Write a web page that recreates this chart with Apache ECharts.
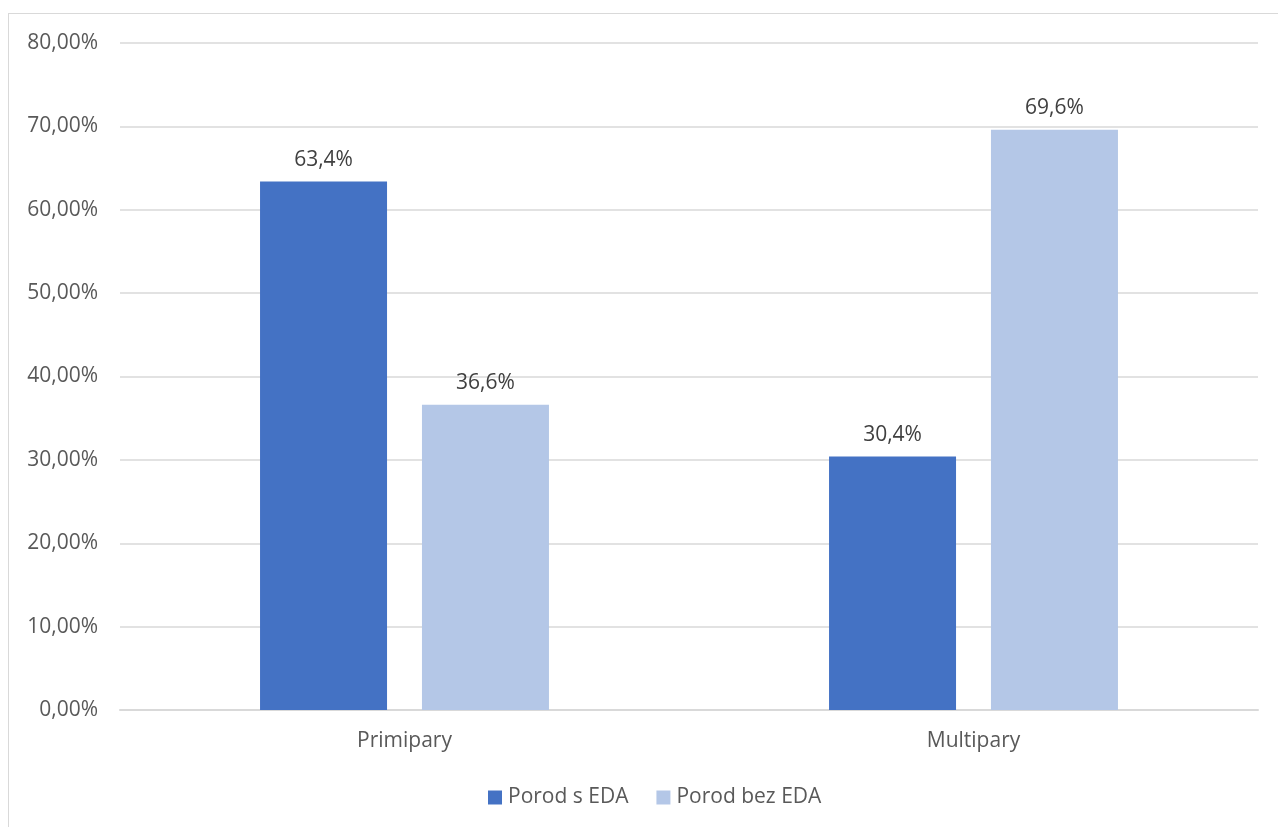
<!DOCTYPE html>
<html>
<head>
<meta charset="UTF-8"/>
<title>Porod s EDA</title>
<script src="https://cdn.jsdelivr.net/npm/echarts@6/dist/echarts.min.js"></script>
<style>
  html, body { margin: 0; padding: 0; background: #fff; }
  #frame { position: absolute; left: 8px; top: 13px; width: 1300px; height: 900px; border: 1.5px solid #d9d9d9; }
  #main { position: absolute; left: 0; top: 0; width: 1278px; height: 827px; }
</style>
</head>
<body>
<div id="frame"></div>
<div id="main"></div>
<script type="text/javascript">
var categories = ['Primipary', 'Multipary'];
var withEda = [63.4, 30.4];
var withoutEda = [36.6, 69.6];
var seriesNames = ['Porod s EDA', 'Porod bez EDA'];

var font = 'Open Sans';
var chart = echarts.init(document.getElementById('main'));

function pct(v) { return v.toFixed(1).replace('.', ',') + '%'; }

var option = {
    animation: false,
    textStyle: { fontFamily: font },
    grid: { left: 120, right: 20, top: 43, bottom: 117, containLabel: false },
    legend: {
        bottom: 14,
        left: 483,
        itemWidth: 14,
        itemHeight: 14,
        itemGap: 28,
        icon: 'rect',
        textStyle: { fontFamily: font, fontSize: 21, color: '#595959', padding: [0, 0, 0, 1] },
        data: seriesNames
    },
    xAxis: {
        type: 'category',
        data: categories,
        axisLine: { lineStyle: { color: '#d9d9d9', width: 2 } },
        axisTick: { show: false },
        axisLabel: { fontFamily: font, fontSize: 21, color: '#595959', margin: 21 }
    },
    yAxis: {
        type: 'value',
        min: 0,
        max: 80,
        interval: 10,
        axisLine: { show: false },
        axisTick: { show: false },
        splitLine: { lineStyle: { color: '#d9d9d9', width: 1.5 } },
        axisLabel: {
            fontFamily: font, fontSize: 21, color: '#595959', margin: 22,
            formatter: function (v) { return v.toFixed(2).replace('.', ',') + '%'; }
        }
    },
    series: [
        {
            name: seriesNames[0],
            type: 'bar',
            data: withEda,
            barWidth: 127,
            barGap: '27.5%',
            itemStyle: { color: '#4472c4' },
            label: { show: true, position: 'top', distance: 11, fontFamily: font, fontSize: 21, color: '#404040', formatter: function (p) { return pct(p.value); } }
        },
        {
            name: seriesNames[1],
            type: 'bar',
            data: withoutEda,
            barWidth: 127,
            itemStyle: { color: '#b4c7e7' },
            label: { show: true, position: 'top', distance: 11, fontFamily: font, fontSize: 21, color: '#404040', formatter: function (p) { return pct(p.value); } }
        }
    ]
};

chart.setOption(option);
</script>
</body>
</html>
